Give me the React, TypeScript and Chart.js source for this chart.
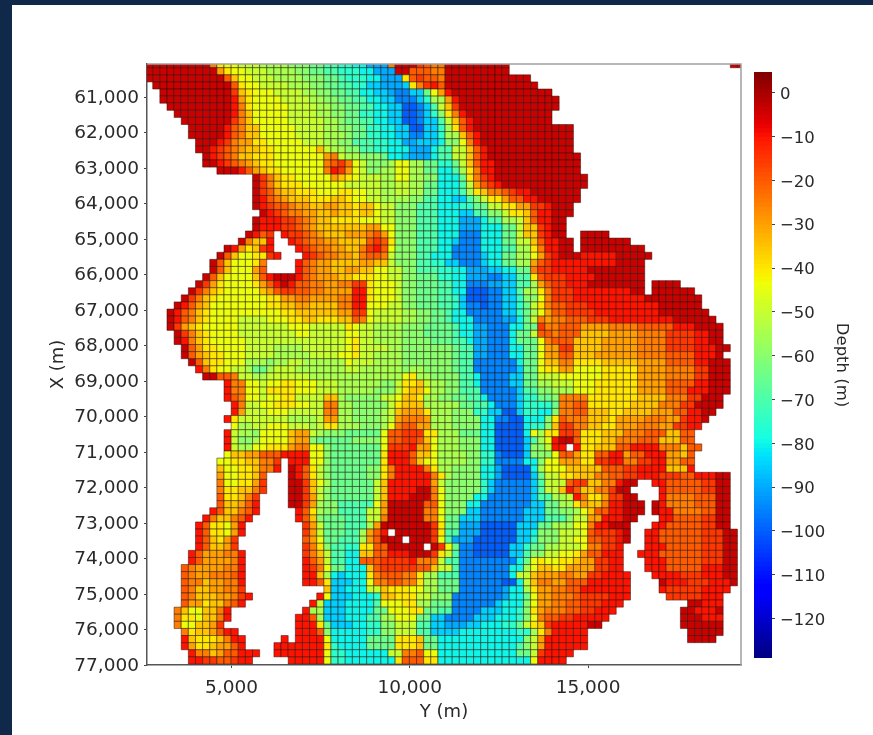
import React, { useEffect, useRef } from "react";
import { Chart, registerables } from "chart.js";

Chart.register(...registerables);

// One letter = one depth class, a run "x12" fills with class x up to (not including) column 12.
const depthClasses = "abcdefghijklmnopqrstuv";
const depthLevels = [0, -4, -10, -15, -20, -25, -30, -35, -40, -44, -50, -55, -60, -65, -70, -75, -80, -85, -90, -95, -100, -105];
const bathymetryRows: string[] = [
  "b9 f10 i11 j13 k16 l20 m23 n25 o27 p29 q31 s34 f35 b38 d39 e40 f42 b51 .82 b84",
  "b10 g11 i12 j14 k17 l21 m23 n25 o27 p30 q32 s35 b37 e39 e40 f42 b51",
  "b11 e12 h13 j15 k18 l22 m25 n27 o28 p31 q33 s36 i37 e38 d39 e41 f42 b54",
  ".1 b12 e13 i14 j16 k20 l23 m25 n27 o29 p31 r33 s36 r37 i38 f39 d40 c41 e42 b55",
  ".2 b12 d13 h14 i15 j18 k22 l24 m26 n28 o30 q32 r34 s35 t37 r39 n40 j41 g42 c43 b57",
  ".2 b12 c13 g14 i15 j19 k23 l25 m27 n29 o31 q33 r35 t38 r39 p40 l42 g43 c44 b58",
  ".3 b12 c13 f14 i15 j20 k24 l26 m28 n30 o32 q34 r36 u38 t39 r40 o41 k42 h43 d44 b58",
  ".4 b12 c13 f14 h15 j20 k24 l26 m28 n30 p32 q34 r36 u38 t39 r40 p41 m42 i43 f44 c45 b57",
  ".5 b12 d13 f14 h15 j20 k25 l27 m28 n30 o32 q34 r36 u38 t39 r41 o42 k43 h44 e45 c46 b57",
  ".6 b11 c12 e13 f14 h16 j21 k25 l27 m29 n31 p33 q35 r37 u39 r41 p42 l43 i44 e45 c46 b60",
  ".6 b11 c12 e13 f14 h16 j21 k25 l28 m29 n31 p33 q35 r37 t39 r41 p42 l44 h45 e46 c47 b60",
  ".7 b10 c11 d12 f13 g15 i17 j22 k25 l27 m29 o32 p34 q36 s38 r41 q42 m44 j45 f46 c47 b60",
  ".7 b9 c10 d11 e12 f13 g14 h16 i18 j24 h25 k26 l28 m30 o32 p34 q37 s40 q41 o43 k45 h46 e47 c48 b60",
  ".8 b9 c10 d11 e12 f13 h15 i18 j25 g26 f27 k28 l30 m33 n34 q36 r37 s40 q41 o43 k45 h46 e47 c48 b61",
  ".8 b10 c11 d12 e13 f14 g15 h16 i18 j25 f26 e27 d28 f29 j30 k31 m34 l35 j37 l39 n41 p43 n44 k45 h46 e47 c49 b61",
  ".10 b13 c14 e15 g16 h17 i19 j25 f26 c27 d28 g29 j30 k31 m33 l35 j37 l39 n41 q43 o44 l45 i46 f47 c49 b61",
  ".15 b16 d17 f18 h19 i21 j26 g27 h28 i29 j30 k33 l35 j37 l39 m41 q44 n45 i46 f47 d48 c49 b62",
  ".15 b16 d17 f18 h19 i22 j28 k33 l35 k37 l39 n41 q44 o45 k46 g47 e48 d49 c50 b62",
  ".15 b16 d17 e18 g19 h21 i24 j27 i29 j31 k33 l35 k37 l39 n41 q44 o45 l46 i47 h48 f50 e51 d52 c54 b61",
  ".15 b16 c17 e18 f19 g20 h23 i26 h28 i29 j31 k33 l35 l37 m39 o41 q43 r45 o46 m47 k48 i50 g51 e53 c55 b61",
  ".15 b16 c17 d18 e20 f21 g23 h25 g27 h29 i30 h32 j33 k35 m38 o41 q44 p46 n48 k50 i52 g54 d56 c57 b60",
  ".16 b17 c18 d19 e20 f22 g24 h26 g27 h29 i30 h32 j33 k35 m38 o41 q44 r46 o48 m50 k51 i53 h54 e55 c57 b60",
  ".15 b16 c19 d21 e22 f23 g24 h26 i30 j33 k35 m38 o41 q44 s47 q48 o50 l52 k53 h54 e55 c57 b59",
  ".15 b16 c19 d21 e22 f23 g24 h31 g33 j35 m38 o41 q44 s47 q50 n52 k53 h55 d56 c57 b59",
  ".14 b15 c16 e17 d18 .19 c20 d22 e23 f24 g25 h28 g31 f32 e33 g34 j35 m38 o41 q44 t47 q50 n52 k53 h55 d56 c57 b59 .61 b65",
  ".13 b14 f15 h17 c18 .20 c21 d22 e23 f25 g27 h31 e32 d33 e34 i35 m38 o41 q43 r44 t47 q50 n52 k54 h55 e56 c58 b60 .61 b68",
  ".11 b12 c13 g14 i15 h16 d17 c18 .21 c22 d23 e24 f26 g28 h30 f31 d32 c33 e34 j35 m38 o41 q43 t47 q50 o52 l54 i55 f56 c58 b60 .61 b70",
  ".10 b11 e12 h13 j15 i17 d18 c19 .22 c23 d24 e25 f27 g29 h30 f31 e33 f34 k35 m38 o40 q43 t47 r48 q50 n52 l54 j55 g56 d57 c58 b61 c66 b71",
  ".9 b10 e11 h12 j15 i16 f17 .21 c22 e23 f24 g26 h30 g32 h34 k35 m38 o40 p42 r44 t47 r48 q50 n52 l54 g55 e56 d57 c60 c66 b70",
  ".9 b10 e11 h12 j15 g16 e17 .21 c22 e23 f24 g26 h28 g30 h32 j34 k36 m38 o41 p43 q45 s48 r50 q52 n54 f55 d57 c62 b70",
  ".8 b9 e10 h11 j15 h16 e17 c18 b21 c22 e23 f24 g27 h29 i32 j34 k36 m38 n41 p43 q45 s48 t50 r52 o54 i55 e56 d59 c63 b70",
  ".7 b8 d9 g10 i11 j15 i16 g17 e18 c19 b20 c21 e23 f25 g27 f29 d31 i32 j35 k36 m38 n41 o43 q45 t48 s50 r52 o54 l55 g56 e57 d59 c62 b70 .71 b75",
  ".6 b7 d8 f9 h10 i11 j16 h17 g18 e19 d21 e23 f25 g29 c31 i32 j35 k36 m38 n41 o43 q45 u48 t50 r52 o53 l55 i56 f57 d60 c68 b70 .71 b77",
  ".5 b6 d7 f8 h9 i10 j17 i19 g21 f23 g27 f29 c31 i32 j35 k36 m38 n41 o43 p44 r45 u48 t50 r52 p53 m55 j56 f57 d60 c70 b78",
  ".4 b5 c6 e7 g8 h9 j17 i19 h21 g23 h27 f29 c31 j34 k36 m38 n41 o43 p44 r45 t47 u48 t50 r52 p53 n54 k55 i56 f57 e59 d62 c72 b78",
  ".3 b4 c5 e6 f7 h8 i9 j19 i21 h23 h27 g29 d31 j32 k36 l38 m40 n42 o43 q45 t50 r52 p53 n54 l55 j56 g57 e59 d63 c72 b79",
  ".3 b4 c5 e6 f7 h8 i9 j13 k17 j20 i22 h24 i27 h29 e30 f31 j32 k36 l38 m40 n42 o43 q46 t50 s52 q53 n54 k55 f56 g57 f59 e62 d65 c74 b80",
  ".3 b4 d5 g6 h7 i8 j13 k20 j23 k28 i29 j30 k32 l36 m39 n43 o44 q46 s48 t51 q53 n55 d56 f58 e61 g65 f69 e74 c77 b81",
  ".4 b5 d6 f7 h8 i9 j13 k21 j23 k28 j30 k32 l36 m39 n43 o44 q46 s48 t51 q52 n54 k55 e57 f58 e61 h65 g69 f73 d77 c79 b81",
  ".4 b5 c6 f7 h8 i9 j14 k21 k24 k28 j29 i30 k32 l36 m40 n43 o45 q46 s48 t51 q52 n55 j56 f57 e60 h64 g69 f73 d77 c79 b81",
  ".5 b6 e7 g8 i10 j14 k18 l22 k28 j29 i30 k34 l36 m43 n44 o46 s48 t51 q53 n55 j56 g58 d60 h64 g69 f73 d77 c80 b82",
  ".5 b6 e7 g8 h9 i11 j14 k18 l23 k27 j29 i30 k32 l36 m43 n44 o46 s48 t51 q53 n55 j56 g58 e60 h63 g69 f73 e77 c80 b81",
  ".6 b7 e8 h9 i11 j14 l17 m18 l20 k22 l28 j29 k32 l36 m43 n44 o46 t52 q53 n55 j56 h58 f60 i64 h69 g73 e77 c79 b82",
  ".7 c8 f9 i10 j12 k14 l15 n17 l18 k21 l28 k30 l36 m37 l39 m43 n44 o46 t52 r53 n55 j56 i58 g60 j64 i69 g73 f77 d79 b82",
  ".8 b10 e12 f13 k15 l17 k23 l36 j37 i38 l40 m44 o46 q47 t51 r53 n55 k58 j64 i69 g73 f77 d79 b82",
  ".11 c12 f14 j16 k17 j19 i21 j24 k27 l33 m35 k36 i38 h39 k40 l42 m44 o46 q47 t51 r53 n55 l57 k60 j63 i69 g73 e77 c79 b82",
  ".11 c12 f14 j16 k17 i21 j24 k27 l32 m35 k36 i37 h39 j40 l42 m44 o47 t52 r53 o55 m57 l60 j63 i69 g73 e76 c79 b82",
  ".11 c12 e13 f14 j16 k17 j19 i21 k25 h27 l28 m33 k35 j36 h38 i39 l41 m43 n45 o47 q48 t52 r53 p55 n57 m58 f60 f62 i66 i69 h73 f76 d78 b81",
  ".12 c13 f14 k16 j18 i21 j23 k25 f27 l29 m34 k35 i36 h39 l44 n46 o48 q49 t52 r53 p57 n58 f60 e62 i68 h72 f75 d77 b81",
  ".12 c13 g14 k17 j20 k25 f27 l29 m33 l34 k35 h36 g39 i40 l43 m46 p48 r50 u52 r53 p55 q57 m58 f60 e62 h65 i67 h71 g74 e76 c78 b80",
  ".11 c12 i13 k20 l24 k25 g27 l29 m33 l34 k35 g36 f39 g40 l43 m47 q49 t51 u53 q56 m57 i58 e59 f62 h65 i66 g70 f73 g75 d76 c78 b79",
  ".12 j13 l15 k17 j20 k23 l24 k25 i27 l30 m33 l34 j35 f36 e38 g40 l43 m47 q49 u53 q54 p56 m57 h58 d60 f62 h64 i66 g69 f72 g74 d76 c78",
  ".11 c12 k13 l15 m16 j20 h21 g23 k24 l25 m28 n33 j34 e36 d39 i41 l44 n47 q49 u53 q54 j55 l56 i58 d60 e61 i64 h67 f70 e73 h75 e77",
  ".11 c12 k13 m15 l16 j20 h21 g23 m24 n29 m33 j34 e36 d38 e39 h40 j41 l44 m47 q49 u53 r54 o55 l56 j57 c58 b60 e61 i64 h66 f69 e72 h75 e77",
  ".11 c12 k13 l15 j17 i20 g21 f23 j25 m26 n33 j34 d37 c38 g40 j41 l44 m47 q49 u53 r54 m56 k57 c59 .60 c61 i63 h66 e68 c72 f75 h76 e78",
  ".11 j12 h14 g16 e19 c23 j25 m26 n33 i34 c37 e38 h40 j41 l45 m47 p49 t50 u53 r54 m57 j58 e60 g61 i63 e65 c67 g68 e70 c73 g75 h76 e77",
  ".10 j12 i14 h16 f18 d19 .20 c23 j25 m26 n33 i34 c37 e38 h39 j41 l45 m47 p49 t53 q55 m56 j58 g61 i63 d65 c67 f69 d71 c73 g75 e77",
  ".10 h11 j13 i15 h16 f18 c19 .20 b21 c22 e23 i24 k25 m26 n31 m33 i34 f35 c39 f40 i41 l43 m47 q49 s50 u54 q55 l56 j59 h64 e67 d69 c73 h76 c77",
  ".10 g11 j13 i15 h16 e17 .20 b21 c22 e23 i24 k25 m26 n31 m33 i34 f35 c40 f41 i42 l43 m47 q49 s50 u54 r55 n56 k58 i60 h63 f65 e67 d69 c72 d75 e77 c80 b82",
  ".10 f11 j13 i15 g16 d17 .20 b22 d23 h24 j25 l26 n32 k33 h34 c40 g41 k42 m47 p48 r49 t54 r55 o56 k59 e60 d62 h64 f66 c67 b69 .71 c73 e78 d80 b82",
  ".10 f11 i13 h15 f16 d17 .20 b22 d23 h24 k25 m26 n32 k33 h34 c38 b40 f41 j42 m47 p48 r49 t54 r55 o56 k58 h59 c60 e61 h63 f65 d66 b68 .72 c73 e78 d80 b82",
  ".10 e11 i13 h14 f15 d16 .20 b22 d23 g24 k25 m26 n32 k33 h34 c37 b40 f41 j42 m46 q48 t54 r55 o57 l59 k60 c61 f62 i64 g65 d67 b69 .72 c73 f77 e80 b82",
  ".10 e11 h13 g14 e15 c16 .20 b22 d23 g24 l25 m27 o32 j33 g34 b39 e41 j42 m45 q47 t54 r56 n58 l60 i61 g62 h64 f65 c67 b70 .71 b72 c73 f77 e80 b82",
  ".9 c10 e11 h13 f14 e15 c16 .21 c22 e23 i24 l25 m27 o31 k33 g34 b39 f41 j42 m45 r47 t53 r56 n58 m60 l61 j62 h63 e65 c67 b70 .71 b72 c74 f78 e80 b82",
  ".8 c9 f10 h12 f13 e14 c15 .21 c22 e23 h24 m25 n28 o31 k33 f34 b39 f41 j42 n44 r47 t53 r56 o59 m60 k62 g64 c67 b69 .72 c74 e78 d80 b82",
  ".7 c8 e9 i11 j12 g13 c14 .22 d23 g24 k25 n28 o31 l32 g33 b40 d41 i42 n44 s47 u52 r55 n57 l60 j62 f63 c65 b68 .71 c73 e78 d80 b82",
  ".7 c8 e9 i11 j12 g13 c14 .22 d23 g24 k25 n28 o30 l31 g32 e33 c34 .35 b40 d41 i42 o44 s47 u52 r54 q55 m58 k61 j62 e63 d66 c67 b68 .70 c72 e78 d81 b83",
  ".7 c8 e9 h10 i11 g12 d13 .22 e23 g24 j25 n27 o30 l31 g32 e33 b36 .37 b40 d41 j42 o43 s46 u52 r54 p55 m58 k60 j62 e64 d66 c67 b68 .70 c72 e78 d81 b83",
  ".7 c8 e9 h11 g12 d13 .22 d23 f24 i25 m26 o28 p30 i32 e34 b39 .40 b41 d42 j43 n44 t46 u51 r53 p54 n56 l58 k61 j62 f64 d66 c67 .70 c73 e78 d81 b83",
  ".6 c7 e8 g11 f13 c14 .22 d23 f24 h25 k26 o28 q30 h32 e34 c37 b40 d41 i42 k43 o44 t46 u51 r53 o54 m56 k58 j60 i61 g62 e64 c67 .69 c72 e78 d81 b83",
  ".6 c7 e8 g12 f13 c14 .22 c23 e24 g25 k26 o28 q30 e33 d37 c38 f41 k42 o44 t52 q53 n54 j55 i56 j58 i60 h61 g63 d65 c67 .70 c73 e78 d81 b83",
  ".5 e6 f7 g11 f13 c14 .22 c23 d24 f25 j26 n28 q31 h32 e33 d38 e40 h41 k43 o44 t51 q53 l54 j55 h57 i59 g63 d65 c67 .70 c73 e78 c81 b83",
  ".5 e6 f7 g9 f12 e13 c14 .22 c24 h25 l26 q27 r28 q31 i32 f33 e36 f38 i39 l41 o44 t51 q52 k54 h55 g58 f60 g62 d64 c68 .71 c75 d78 c81 b83",
  ".5 e6 f8 h9 g11 f13 c14 .22 c24 e25 i26 r29 q31 j32 f34 e36 f38 i39 l41 n44 t50 u52 q53 k54 h55 f57 g59 e62 c68 .72 b73 c76 d79 c82 b83",
  ".5 e6 f7 h9 g11 f13 d14 .25 h26 r28 q31 k33 h34 i37 j39 l41 n44 t50 s51 q53 l54 i55 g57 f59 e61 c68 .72 c73 d78 c82",
  ".5 e6 f7 h10 g12 f13 d14 c15 .24 c25 j26 r29 q32 p33 h35 i38 k40 m43 t50 s51 q53 n54 j55 g57 f60 e61 d65 c68 .73 d78 c81",
  ".5 e6 g8 i9 h11 f12 e13 c14 .23 c24 k25 r28 q32 o33 j36 i38 l40 n43 t49 r50 q53 m54 j55 g57 f59 e61 d64 c67 .76 b78 c81",
  ".4 f5 h6 j8 h10 f11 c12 .22 c23 l25 r28 q32 n34 j37 i39 n41 o43 t47 r50 q52 p53 m54 i55 g56 f59 e61 d63 c66 .75 b77 c80 b81",
  ".4 f5 i7 j8 h10 f11 c12 .21 c23 e24 l25 r28 q31 o33 l35 j38 n40 r42 t46 r49 q52 p53 m54 j55 f56 e58 d60 c65 .75 b78 c81",
  ".4 f5 j7 h9 g10 d11 .21 c24 i25 n26 r29 q31 p33 m35 k38 o40 r42 s45 r47 q50 p52 n53 k54 i55 h56 d57 c62 b64 .75 b81",
  ".5 f6 i7 h9 g10 e11 c13 .21 c24 e25 m26 q31 p33 m35 k38 o40 r44 q52 p54 l55 i56 f57 c62 .76 b81",
  ".5 c6 h7 i10 h11 f12 c14 .19 c20 .21 c25 j26 q31 n35 i38 h39 n41 q53 m54 k55 g56 c62 .76 b80",
  ".5 c6 g7 i9 h10 g12 e13 c14 .18 c25 i26 p27 q31 n35 i38 h39 n41 q52 o53 m54 k55 g56 c62",
  ".6 c7 f9 h10 g11 e13 c16 .18 c25 j26 p28 q34 k36 f38 e39 j41 q52 n54 k55 d56 c60",
  ".6 c8 d10 e12 d13 c15 .20 c25 j26 p28 q35 i36 e39 i41 q54 j55 c59",
];

const xTicks = [5000, 10000, 15000];
const yTicks = [61000, 62000, 63000, 64000, 65000, 66000, 67000, 68000, 69000, 70000, 71000, 72000, 73000, 74000, 75000, 76000, 77000];
const depthTicks = [0, -10, -20, -30, -40, -50, -60, -70, -80, -90, -100, -110, -120];
const firstColumnY = 2690;
const firstRowX = 60070;
const cellSize = 200;
const depthMin = -129;
const depthMax = 4.73;

function jet(t: number): string {
  const ramp = (pts: number[][]) => {
    for (let i = 1; i < pts.length; i++) {
      if (t <= pts[i][0]) {
        const f = (t - pts[i - 1][0]) / (pts[i][0] - pts[i - 1][0]);
        return Math.round(255 * (pts[i - 1][1] + f * (pts[i][1] - pts[i - 1][1])));
      }
    }
    return Math.round(255 * pts[pts.length - 1][1]);
  };
  const r = ramp([[0, 0], [0.35, 0], [0.66, 1], [0.89, 1], [1, 0.5]]);
  const g = ramp([[0, 0], [0.125, 0], [0.375, 1], [0.64, 1], [0.91, 0], [1, 0]]);
  const b = ramp([[0, 0.5], [0.11, 1], [0.34, 1], [0.65, 0], [1, 0]]);
  return `rgb(${r},${g},${b})`;
}
const depthColor = (d: number) => jet((d - depthMin) / (depthMax - depthMin));

function buildCells() {
  const points: { x: number; y: number }[] = [];
  const colors: string[] = [];
  bathymetryRows.forEach((row, r) => {
    let col = 0;
    for (const run of row.split(" ")) {
      const letter = run[0];
      const end = Number(run.slice(1));
      for (; col < end; col++) {
        if (letter === ".") continue;
        points.push({ x: firstColumnY + col * cellSize, y: firstRowX + r * cellSize });
        colors.push(depthColor(depthLevels[depthClasses.indexOf(letter)]));
      }
    }
  });
  return { points, colors };
}

const TEXT = "#2a2a2a";
const FONT = "'DejaVu Sans'";

const frame = {
  id: "frame",
  afterDatasetsDraw(chart: any) {
    const { ctx, chartArea: a } = chart;
    ctx.save();
    ctx.strokeStyle = "#a0a0a0";
    ctx.lineWidth = 1.5;
    ctx.beginPath();
    ctx.moveTo(a.left, a.top);
    ctx.lineTo(a.right, a.top);
    ctx.lineTo(a.right, a.bottom);
    ctx.stroke();
    ctx.restore();
  },
};

export default function App() {
  const mapRef = useRef<HTMLCanvasElement>(null);
  const barRef = useRef<HTMLCanvasElement>(null);

  useEffect(() => {
    const { points, colors } = buildCells();
    const map = new Chart(mapRef.current!, {
      type: "scatter",
      data: {
        datasets: [
          {
            data: points,
            backgroundColor: colors,
            borderColor: "rgba(30,15,0,0.65)",
            borderWidth: 0.75,
            pointStyle: "rect",
            pointRadius: 5.04,
            pointHoverRadius: 5.04,
            clip: 0,
          } as any,
        ],
      },
      plugins: [frame],
      options: {
        animation: false,
        responsive: false,
        events: [],
        layout: { padding: { top: 64, right: 132, left: 0, bottom: 0 } },
        plugins: { legend: { display: false }, tooltip: { enabled: false } },
        scales: {
          x: {
            type: "linear",
            min: 2630,
            max: 19290,
            afterBuildTicks: (s: any) => { s.ticks = xTicks.map((value) => ({ value })); },
            afterFit: (s: any) => { s.height = 70; },
            grid: { drawOnChartArea: false, drawTicks: true, tickLength: 3, color: "#444" },
            border: { display: true, color: "#555", width: 1.5 },
            ticks: {
              color: TEXT,
              font: { family: FONT, size: 18.5 },
              padding: 9,
              maxRotation: 0,
              callback: (v: any) => Number(v).toLocaleString("en-US"),
            },
            title: { display: true, text: "Y (m)", color: TEXT, font: { family: FONT, size: 18 }, padding: { top: 0, bottom: 12 } },
          },
          y: {
            type: "linear",
            reverse: true,
            min: 60065,
            max: 77000,
            afterBuildTicks: (s: any) => { s.ticks = yTicks.map((value) => ({ value })); },
            afterFit: (s: any) => { s.width = 147; },
            grid: { drawOnChartArea: false, drawTicks: true, tickLength: 3, color: "#444" },
            border: { display: true, color: "#555", width: 1.5 },
            ticks: {
              color: TEXT,
              font: { family: FONT, size: 18.5 },
              padding: 5,
              labelOffset: 1,
              autoSkip: false,
              callback: (v: any) => Number(v).toLocaleString("en-US"),
            },
            title: { display: true, text: "X (m)", color: TEXT, font: { family: FONT, size: 18 }, padding: { top: 48, bottom: 0 } },
          },
        },
      } as any,
    });

    const levels: number[] = [];
    for (let d = -129; d < 5; d++) levels.push(d);
    const bar = new Chart(barRef.current!, {
      type: "bar",
      data: {
        labels: ["Depth"],
        datasets: levels.map((d) => ({
          data: [[d, d + 1.6]] as any,
          backgroundColor: depthColor(d + 0.5),
          borderWidth: 0,
          grouped: false,
          barPercentage: 1,
          categoryPercentage: 1,
          order: -d,
        })),
      },
      options: {
        animation: false,
        responsive: false,
        events: [],
        layout: { padding: { top: 72, left: 754, right: 0, bottom: 77 } },
        plugins: { legend: { display: false }, tooltip: { enabled: false } },
        scales: {
          x: { display: false },
          y: {
            position: "right",
            min: depthMin,
            max: depthMax,
            afterBuildTicks: (s: any) => { s.ticks = depthTicks.map((value) => ({ value })); },
            afterFit: (s: any) => { s.width = 101; },
            grid: { drawOnChartArea: false, drawTicks: true, tickLength: 3, color: "#444" },
            border: { display: false },
            ticks: {
              color: TEXT,
              font: { family: FONT, size: 16.5 },
              padding: 5,
              labelOffset: 2,
              autoSkip: false,
              callback: (v: any) => String(v).replace("-", "\u2212"),
            },
            title: { display: true, text: "Depth (m)", color: TEXT, font: { family: FONT, size: 16.5 }, padding: { top: 22, bottom: 0 } },
          },
        },
      } as any,
    });

    return () => {
      map.destroy();
      bar.destroy();
    };
  }, []);

  const layer: React.CSSProperties = { position: "absolute", left: 0, top: 0, width: 873, height: 735, filter: "blur(0.5px)" };
  return (
    <div style={{ position: "fixed", left: 0, top: 0, width: 873, height: 735, background: "#10284a", overflow: "hidden" }}>
      <div style={{ position: "absolute", left: 12, top: 5, width: 861, height: 730, background: "#fff" }} />
      <canvas ref={mapRef} width={873} height={735} style={layer} />
      <canvas ref={barRef} width={873} height={735} style={layer} />
    </div>
  );
}
